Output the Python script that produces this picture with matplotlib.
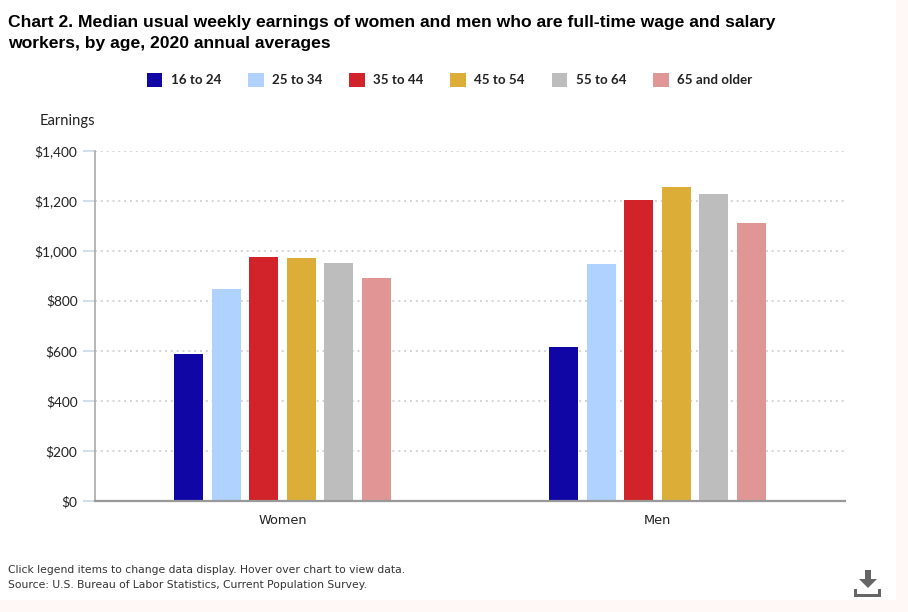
import matplotlib
matplotlib.use("Agg")
import matplotlib.pyplot as plt
import numpy as np
from matplotlib.patches import Rectangle, Polygon

W, H = 908, 612

groups = ["Women", "Men"]
ages = ["16 to 24", "25 to 34", "35 to 44", "45 to 54", "55 to 64", "65 and older"]
colors = ["#1005a5", "#b0d2ff", "#d2232a", "#dcae37", "#bdbdbd", "#e19696"]
women = [588, 847, 975, 972, 950, 890]
men = [617, 948, 1202, 1255, 1226, 1110]
yticks = [0, 200, 400, 600, 800, 1000, 1200, 1400]

fig = plt.figure(figsize=(W / 100, H / 100), dpi=100, facecolor="#fff8f6")
# white panel, the page tint only shows on the right and bottom edge
fig.patches.append(Rectangle((0, 1 - 600 / H), 896 / W, 600 / H, transform=fig.transFigure,
                             facecolor="white", edgecolor="none", zorder=-5))

ax = fig.add_axes([95 / W, 1 - 501 / H, 750 / W, 350.5 / H])
ax.patch.set_alpha(0)

x = np.arange(len(groups))
for i, age in enumerate(ages):
    vals = [women[i], men[i]]
    ax.bar(x + (i - 2.5) * 0.1, vals, width=0.0773, color=colors[i], label=age, zorder=3)

ax.set_xlim(-0.5, 1.5)
ax.set_ylim(0, 1400)
ax.set_yticks(yticks)
ax.set_yticklabels([f"${v:,}" for v in yticks], fontfamily="Lato", fontsize=9.9, color="#222222")
ax.set_xticks(x)
ax.set_xticklabels(groups, fontfamily="DejaVu Sans", fontsize=9.3, color="#222222")
ax.tick_params(axis="y", length=8.6, width=1.2, color="#ccd9ea", pad=4)
ax.tick_params(axis="x", length=0, pad=9.7)
ax.grid(axis="y", color="#d4d4d4", linestyle=(0, (1, 2)), linewidth=1.4, zorder=0)
for side in ["top", "right"]:
    ax.spines[side].set_visible(False)
ax.spines["left"].set_color("#aaaaaa")
ax.spines["left"].set_linewidth(1.2)
ax.spines["bottom"].set_color("#999999")
ax.spines["bottom"].set_linewidth(1.6)
ax.spines["bottom"].set_zorder(4)

fig.text(8 / W, 1 - 27 / H, "Chart 2. Median usual weekly earnings of women and men who are full-time wage and salary",
         fontfamily="Liberation Sans", fontweight="bold", fontsize=12.6, color="black", va="baseline")
fig.text(8 / W, 1 - 48 / H, "workers, by age, 2020 annual averages",
         fontfamily="Liberation Sans", fontweight="bold", fontsize=12.6, color="black", va="baseline")
fig.text(40 / W, 1 - 125.5 / H, "Earnings", fontfamily="Lato", fontsize=10.6, color="#222222", va="baseline")

handles, labels = ax.get_legend_handles_labels()
leg = fig.legend(handles, labels, loc="center", bbox_to_anchor=(449.5 / W, 1 - 80 / H), ncol=6,
                 frameon=False, handlelength=1.17, handleheight=1.35, handletextpad=0.62,
                 columnspacing=2.02, prop={"family": "Lato", "weight": "bold", "size": 9.6})
for t in leg.get_texts():
    t.set_color("#222222")

fig.text(8 / W, 1 - 573 / H, "Click legend items to change data display. Hover over chart to view data.",
         fontfamily="DejaVu Sans", fontsize=7.75, color="#333333", va="baseline")
fig.text(8 / W, 1 - 588 / H, "Source: U.S. Bureau of Labor Statistics, Current Population Survey.",
         fontfamily="DejaVu Sans", fontsize=7.75, color="#333333", va="baseline")

# download icon
icon = "#666666"
def px(pts):
    return [(a / W, 1 - b / H) for a, b in pts]
fig.patches.append(Polygon(px([(865, 570), (871, 570), (871, 579), (877, 579), (868, 588), (859, 579), (865, 579)]),
                           transform=fig.transFigure, facecolor=icon, edgecolor="none"))
fig.patches.append(Polygon(px([(854, 589), (857, 589), (857, 594), (878, 594), (878, 589), (881, 589), (881, 597), (854, 597)]),
                           transform=fig.transFigure, facecolor=icon, edgecolor="none"))

fig.savefig("out.png", dpi=100, facecolor=fig.get_facecolor())
